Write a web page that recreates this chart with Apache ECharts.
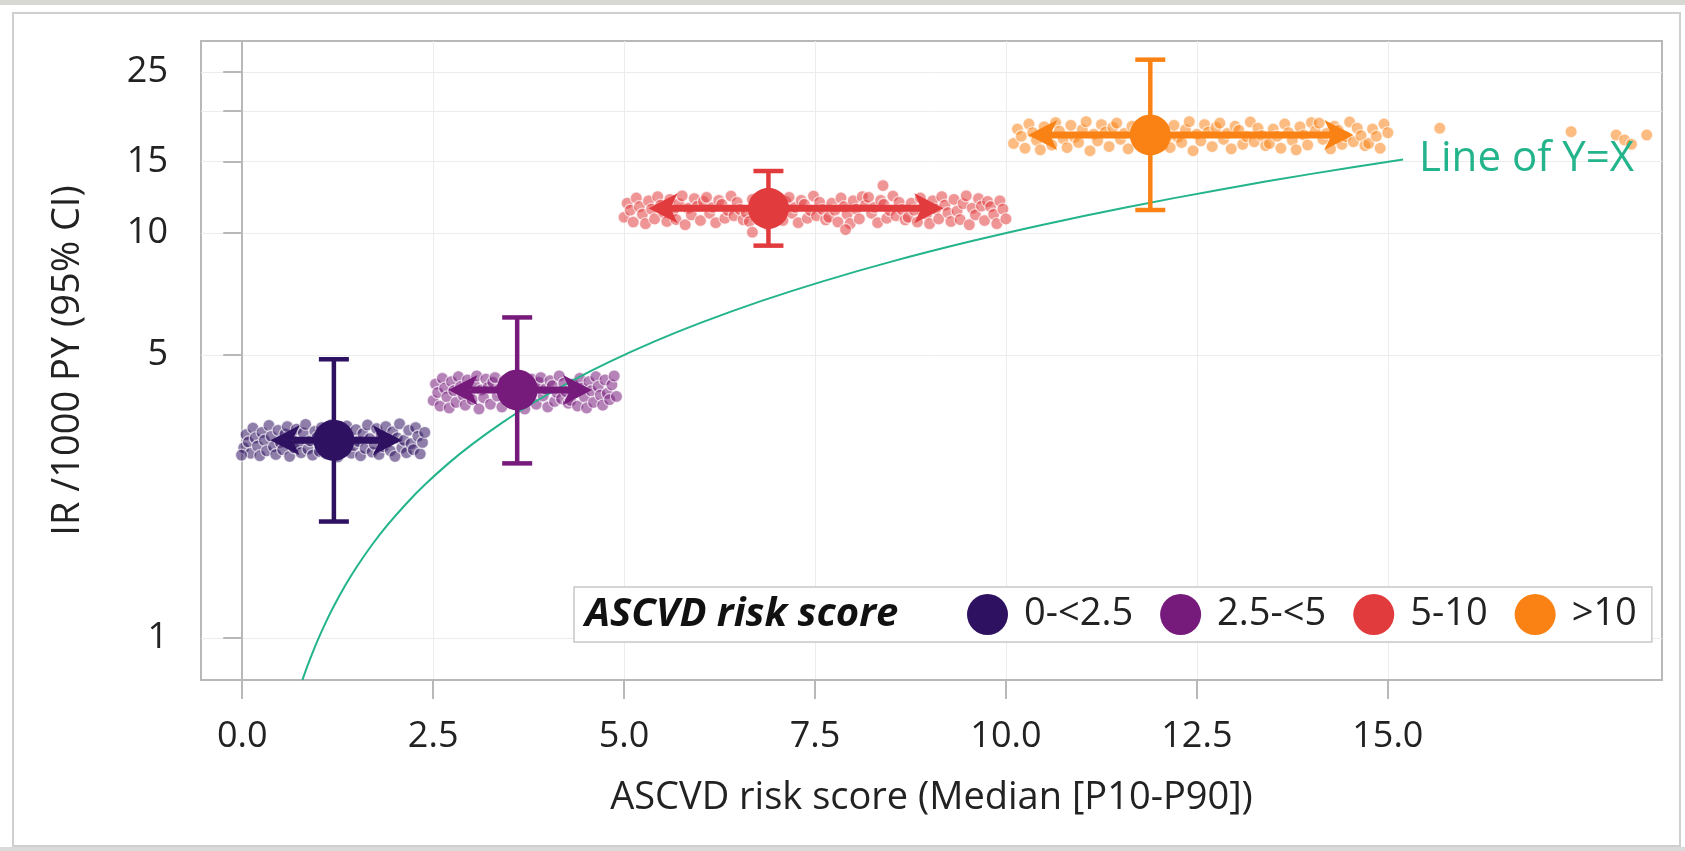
<!DOCTYPE html>
<html>
<head>
<meta charset="utf-8">
<script src="https://cdn.jsdelivr.net/npm/echarts/dist/echarts.min.js"></script>
<style>
html,body{margin:0;padding:0;background:#fff;}
#chart{width:1685px;height:851px;}
</style>
</head>
<body>
<div id="chart"></div>
<script>
// ---- tick labels ----
const yTickLabels = [1, 5, 10, 15, 25];
const yTickMarks = [1, 5, 10, 15, 20, 25];
const xTickLabels = [0, 2.5, 5, 7.5, 10, 12.5, 15];

// ---- groups ----
const groups = ['0-<2.5', '2.5-<5', '5-10', '>10'];
const groupColors = ['#2e1160', '#761a7b', '#e23b3d', '#fa8214'];
const medianRisk = [1.20, 3.60, 6.89, 11.89];
const p10Risk = [0.37, 2.70, 5.32, 10.29];
const p90Risk = [2.09, 4.58, 9.18, 14.55];
const incidence = [3.08, 4.10, 11.51, 17.47];
const ciLow = [1.94, 2.70, 9.31, 11.40];
const ciHigh = [4.88, 6.19, 14.23, 26.8];

// ---- identity line ----
const identityX = [0.788, 0.85, 0.92, 1, 1.1, 1.2, 1.35, 1.5, 1.7, 1.9, 2.15, 2.4, 2.7, 3, 3.4, 3.8, 4.3, 4.8, 5.4, 6, 6.8, 7.6, 8.5, 9.5, 10.5, 11.6, 12.8, 14, 15.2];

// ---- individual (jittered) points per group ----
const cloud1X = [0.02,0.05,0.08,0.11,0.14,0.17,0.20,0.23,0.26,0.29,0.32,0.35,0.38,0.41,0.44,0.47,0.50,0.53,0.56,0.59,0.62,0.65,0.68,0.71,0.74,0.77,0.80,0.83,0.86,0.89,0.92,0.95,0.98,1.01,1.04,1.07,1.10,1.13,1.16,1.19,1.22,1.25,1.28,1.31,1.34,1.37,1.40,1.43,1.46,1.49,1.52,1.55,1.58,1.61,1.64,1.67,1.70,1.73,1.76,1.79,1.82,1.85,1.88,1.91,1.94,1.97,2.00,2.03,2.06,2.09,2.12,2.15,2.18,2.21,2.24,2.27,2.30,2.33,2.36,2.39,-0.01];
const cloud1Y = [2.95,3.18,3.05,2.86,3.30,3.12,2.98,2.82,3.22,3.08,2.90,3.35,3.15,2.97,2.84,3.26,3.04,2.92,3.19,3.33,2.81,3.10,2.95,3.28,3.02,2.87,3.21,3.37,2.93,3.07,2.83,3.24,3.13,2.89,3.31,3.00,2.85,3.17,3.36,2.96,3.09,2.80,3.25,3.03,2.91,3.34,3.14,2.86,2.99,3.27,3.06,2.82,3.20,2.94,3.36,3.11,2.88,3.01,3.29,2.84,3.16,2.97,3.33,3.05,2.90,3.23,2.81,3.12,3.38,2.95,3.08,2.87,3.26,3.02,2.92,3.31,3.15,2.85,3.04,3.22,2.83];

const cloud2X = [2.50,2.53,2.56,2.59,2.62,2.65,2.68,2.71,2.74,2.77,2.80,2.83,2.86,2.89,2.92,2.95,2.98,3.01,3.04,3.07,3.10,3.13,3.16,3.19,3.22,3.25,3.28,3.31,3.34,3.37,3.40,3.43,3.46,3.49,3.52,3.55,3.58,3.61,3.64,3.67,3.70,3.73,3.76,3.79,3.82,3.85,3.88,3.91,3.94,3.97,4.00,4.03,4.06,4.09,4.12,4.15,4.18,4.21,4.24,4.27,4.30,4.33,4.36,4.39,4.42,4.45,4.48,4.51,4.54,4.57,4.60,4.63,4.66,4.69,4.72,4.75,4.78,4.81,4.84,4.87,4.90];
const cloud2Y = [3.86,4.24,4.04,3.74,4.38,4.14,3.94,3.70,4.30,4.08,3.82,4.42,4.18,3.98,3.76,4.34,4.02,3.88,4.22,4.44,3.68,4.10,3.92,4.36,4.16,3.78,4.28,4.40,3.96,4.12,3.72,4.32,4.20,3.84,4.04,4.44,3.90,4.26,4.06,3.80,3.68,4.10,3.92,4.36,4.16,3.78,4.28,4.40,3.96,4.12,3.72,4.32,4.20,3.84,4.04,4.44,3.90,4.26,4.06,3.80,3.86,4.24,4.04,3.74,4.38,4.14,3.94,3.70,4.30,4.08,3.82,4.42,4.18,3.98,3.76,4.34,4.02,3.88,4.22,4.44,3.95];

const cloud3X = [5.00,5.04,5.08,5.12,5.16,5.20,5.24,5.28,5.32,5.36,5.40,5.44,5.48,5.52,5.56,5.60,5.64,5.68,5.72,5.76,5.80,5.84,5.88,5.92,5.96,6.00,6.04,6.08,6.12,6.16,6.20,6.24,6.28,6.32,6.36,6.40,6.44,6.48,6.52,6.56,6.60,6.64,6.68,6.72,6.76,6.80,6.84,6.88,6.92,6.96,7.00,7.04,7.08,7.12,7.16,7.20,7.24,7.28,7.32,7.36,7.40,7.44,7.48,7.52,7.56,7.60,7.64,7.68,7.72,7.76,7.80,7.84,7.88,7.92,7.96,8.00,8.04,8.08,8.12,8.16,8.20,8.24,8.28,8.32,8.36,8.40,8.44,8.48,8.52,8.56,8.60,8.64,8.68,8.72,8.76,8.80,8.84,8.88,8.92,8.96,9.00,9.04,9.08,9.12,9.16,9.20,9.24,9.28,9.32,9.36,9.40,9.44,9.48,9.52,9.56,9.60,9.64,9.68,9.72,9.76,9.80,9.84,9.88,9.92,9.96,10.00,8.39,7.90,6.68];
const cloud3Y = [10.94,11.85,11.39,10.65,12.21,11.62,11.13,10.55,12.01,11.46,10.84,12.30,11.72,11.23,10.68,12.11,11.33,10.80,11.82,12.36,10.49,11.52,11.09,12.17,11.66,10.74,11.97,12.26,11.19,11.58,10.61,12.05,11.78,10.88,11.37,12.34,11.04,11.91,11.43,10.78,11.23,10.68,12.11,11.33,10.80,11.82,12.36,10.49,11.52,11.09,12.17,11.66,10.74,11.97,12.26,11.19,11.58,10.61,12.05,11.78,10.88,11.37,12.34,11.04,11.91,11.43,10.78,10.94,11.85,11.39,10.65,12.21,11.62,11.13,10.55,12.01,11.46,10.84,12.30,11.72,12.26,11.19,11.58,10.61,12.05,11.78,10.88,11.37,12.34,11.04,11.91,11.43,10.78,10.94,11.85,11.39,10.65,12.21,11.62,11.13,10.55,12.01,11.46,10.84,12.30,11.72,11.23,10.68,12.11,11.33,10.80,11.82,12.36,10.49,11.52,11.09,12.17,11.66,10.74,11.97,11.62,11.13,10.55,12.01,11.46,10.84,13.10,10.20,10.05];

const cloud4X = [10.10,10.15,10.20,10.25,10.30,10.35,10.40,10.45,10.50,10.55,10.60,10.65,10.70,10.75,10.80,10.85,10.90,10.95,11.00,11.05,11.10,11.15,11.20,11.25,11.30,11.35,11.40,11.45,11.50,11.55,11.60,11.65,11.70,11.75,11.80,11.85,11.90,11.95,12.00,12.05,12.10,12.15,12.20,12.25,12.30,12.35,12.40,12.45,12.50,12.55,12.60,12.65,12.70,12.75,12.80,12.85,12.90,12.95,13.00,13.05,13.10,13.15,13.20,13.25,13.30,13.35,13.40,13.45,13.50,13.55,13.60,13.65,13.70,13.75,13.80,13.85,13.90,13.95,14.00,14.05,14.10,14.15,14.20,14.25,14.30,14.35,14.40,14.45,14.50,14.55,14.60,14.65,14.70,14.75,14.80,14.85,14.90,14.95,15.00,15.68,17.40,17.99,18.10,18.19,18.39];
const cloud4Y = [16.65,18.06,17.34,16.20,18.60,17.70,16.95,16.05,18.30,17.46,16.50,18.75,17.85,17.10,16.26,18.45,17.25,16.74,18.00,18.84,15.96,17.55,16.89,18.54,17.76,16.35,18.24,18.69,17.04,17.64,16.14,18.36,17.94,16.56,17.31,18.81,16.80,18.15,17.40,16.44,17.10,16.26,18.45,17.25,16.74,18.00,18.84,15.96,17.55,16.89,18.54,17.76,16.35,18.24,18.69,17.04,17.64,16.14,18.36,17.94,16.56,17.31,18.81,16.80,18.15,17.40,16.44,16.65,18.06,17.34,16.20,18.60,17.70,16.95,16.05,18.30,17.46,16.50,18.75,17.85,18.69,17.04,17.64,16.14,18.36,17.94,16.56,17.31,18.81,16.80,18.15,17.40,16.44,16.65,18.06,17.34,16.20,18.60,17.70,18.15,17.80,17.47,16.98,16.57,17.47];

const cloudsX = [cloud1X, cloud2X, cloud3X, cloud4X];
const cloudsY = [cloud1Y, cloud2Y, cloud3Y, cloud4Y];

// ---- build options ----
const FONT = 'Open Sans';
const TXT = '#222';

function hexA(hex, a) {
  const n = parseInt(hex.slice(1), 16);
  return 'rgba(' + ((n >> 16) & 255) + ',' + ((n >> 8) & 255) + ',' + (n & 255) + ',' + a + ')';
}

const series = [];

groups.forEach(function (g, i) {
  series.push({
    type: 'scatter',
    name: 'cloud ' + g,
    data: cloudsX[i].map(function (x, k) { return [x, cloudsY[i][k]]; }),
    symbolSize: 12,
    z: 2,
    silent: true,
    itemStyle: {
      color: hexA(groupColors[i], 0.68),
      borderColor: 'rgba(255,255,255,0.8)',
      borderWidth: 1.3
    }
  });
});

series.push({
  type: 'line',
  name: 'identity',
  data: identityX.map(function (v) { return [v, v]; }),
  showSymbol: false,
  smooth: 0.3,
  z: 3,
  lineStyle: { color: '#23b48b', width: 2 },
  endLabel: {
    show: true,
    formatter: 'Line of Y=X',
    color: '#23b48b',
    fontFamily: FONT,
    fontSize: 42,
    distance: 16
  }
});

series.push({
  type: 'custom',
  name: 'bars',
  z: 4,
  data: groups.map(function (g, i) {
    return [medianRisk[i], incidence[i], ciLow[i], ciHigh[i], p10Risk[i], p90Risk[i]];
  }),
  encode: { x: [0, 4, 5], y: [1, 2, 3] },
  renderItem: function (params, api) {
    const i = params.dataIndex;
    const col = groupColors[i];
    const xm = api.value(0), ir = api.value(1), lo = api.value(2), hi = api.value(3), p10 = api.value(4), p90 = api.value(5);
    const top = api.coord([xm, hi]);
    const bot = api.coord([xm, lo]);
    const ctr = api.coord([xm, ir]);
    const L = api.coord([p10, ir]);
    const R = api.coord([p90, ir]);
    const cap = 15, ah = 29, aw = 15, notch = 7;
    const st = { stroke: col, lineWidth: 4.5 };
    return {
      type: 'group',
      children: [
        { type: 'line', shape: { x1: top[0], y1: top[1], x2: bot[0], y2: bot[1] }, style: st },
        { type: 'line', shape: { x1: top[0] - cap, y1: top[1], x2: top[0] + cap, y2: top[1] }, style: st },
        { type: 'line', shape: { x1: bot[0] - cap, y1: bot[1], x2: bot[0] + cap, y2: bot[1] }, style: st },
        { type: 'line', shape: { x1: L[0] + ah - notch, y1: ctr[1], x2: R[0] - ah + notch, y2: ctr[1] }, style: { stroke: col, lineWidth: 7 } },
        { type: 'polygon', shape: { points: [[L[0], ctr[1]], [L[0] + ah, ctr[1] - aw], [L[0] + ah - notch, ctr[1]], [L[0] + ah, ctr[1] + aw]] }, style: { fill: col } },
        { type: 'polygon', shape: { points: [[R[0], ctr[1]], [R[0] - ah, ctr[1] - aw], [R[0] - ah + notch, ctr[1]], [R[0] - ah, ctr[1] + aw]] }, style: { fill: col } }
      ]
    };
  }
});

groups.forEach(function (g, i) {
  series.push({
    type: 'scatter',
    name: g,
    data: [[medianRisk[i], incidence[i]]],
    symbolSize: 41,
    z: 5,
    itemStyle: { color: groupColors[i], opacity: 1 }
  });
});

const option = {
  animation: false,
  backgroundColor: '#fff',
  textStyle: { fontFamily: FONT },
  grid: { left: 201, right: 23, top: 41, bottom: 171, show: true, borderColor: '#b8b8b8', borderWidth: 2, backgroundColor: 'transparent' },
  title: {
    text: 'ASCVD risk score',
    left: 585,
    top: 594,
    padding: 0,
    textStyle: { fontFamily: FONT, fontSize: 40, fontStyle: 'italic', fontWeight: 'bold', color: '#111', lineHeight: 42 }
  },
  legend: {
    data: groups,
    left: 574,
    top: 587,
    orient: 'horizontal',
    icon: 'circle',
    itemWidth: 41,
    itemHeight: 41,
    itemGap: 27,
    padding: [7, 15, 7, 393],
    borderColor: '#c8c8c8',
    borderWidth: 1.5,
    backgroundColor: '#fff',
    selectedMode: false,
    textStyle: { fontFamily: FONT, fontSize: 38, color: TXT, padding: [0, 0, 0, 11] }
  },
  xAxis: {
    type: 'value',
    min: -0.54,
    max: 18.59,
    name: 'ASCVD risk score (Median [P10-P90])',
    nameLocation: 'middle',
    nameGap: 99,
    nameTextStyle: { fontFamily: FONT, fontSize: 38, color: TXT },
    axisLine: { show: true, lineStyle: { color: '#b8b8b8', width: 2 } },
    axisTick: { show: true, length: 19, customValues: xTickLabels, lineStyle: { color: '#b8b8b8', width: 2 } },
    axisLabel: { customValues: xTickLabels, margin: 39, fontFamily: FONT, fontSize: 36, color: TXT, formatter: function (v) { return v.toFixed(1); } },
    splitLine: { show: true, lineStyle: { color: '#ececec', width: 1 } }
  },
  yAxis: {
    type: 'log',
    min: 0.788,
    max: 29.8,
    name: 'IR /1000 PY (95% CI)',
    nameLocation: 'middle',
    nameGap: 114,
    nameTextStyle: { fontFamily: FONT, fontSize: 38, color: TXT },
    axisLine: { show: true, lineStyle: { color: '#b8b8b8', width: 2 } },
    axisTick: { show: true, length: 19, customValues: yTickMarks, lineStyle: { color: '#b8b8b8', width: 2 } },
    axisLabel: { customValues: yTickLabels, margin: 33, fontFamily: FONT, fontSize: 36, color: TXT },
    splitLine: { show: true, lineStyle: { color: '#ececec', width: 1 } }
  },
  graphic: [
    { type: 'rect', z: -10, shape: { x: 0, y: 0, width: 1685, height: 5 }, style: { fill: '#d8d8d2' } },
    { type: 'rect', z: -10, shape: { x: 0, y: 847, width: 1685, height: 4 }, style: { fill: '#dadada' } },
    { type: 'rect', z: -10, shape: { x: 13, y: 13, width: 1667, height: 833 }, style: { fill: 'none', stroke: '#cfcfcf', lineWidth: 2 } }
  ],
  series: series
};

const chart = echarts.init(document.getElementById('chart'), null, { renderer: 'canvas' });
chart.setOption(option);
</script>
</body>
</html>
